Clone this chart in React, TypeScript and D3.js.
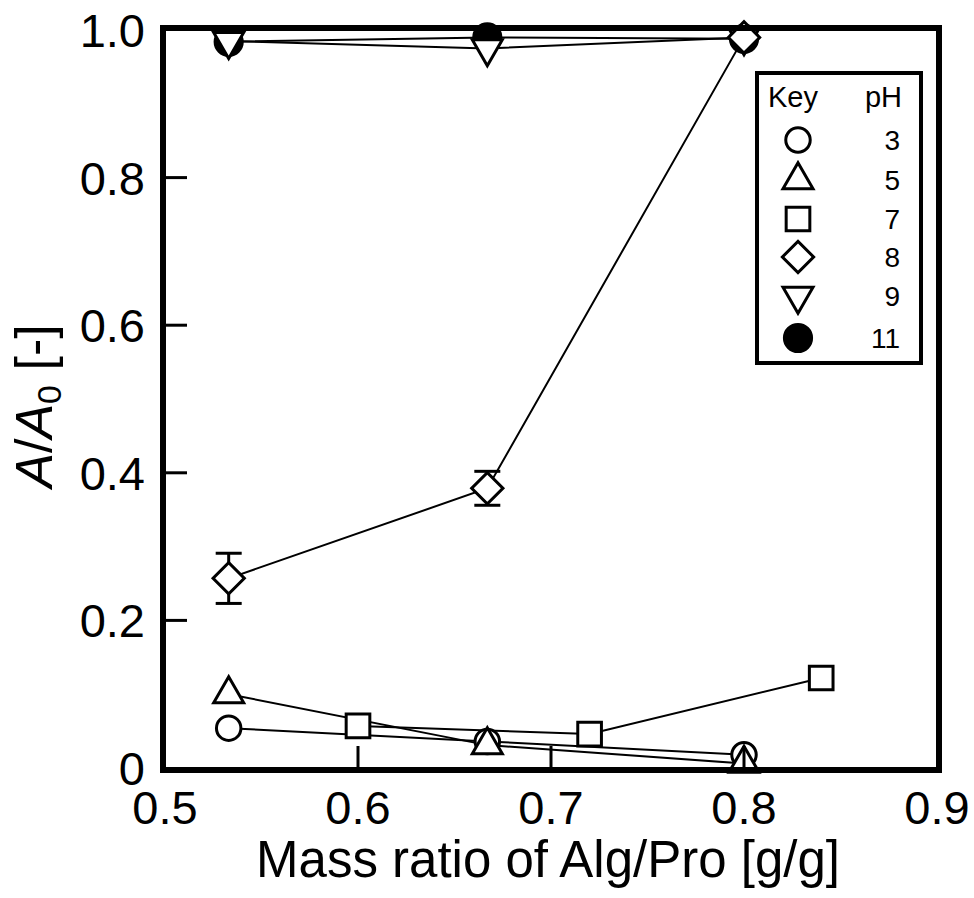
import * as d3 from "d3";

// mass ratio Alg/Pro [g/g]
const xMain = [0.533, 0.667, 0.8];
const xSquare = [0.6, 0.72, 0.84];

// A/A0 per pH
const ph3 = [0.054, 0.036, 0.018];
const ph5 = [0.1, 0.031, 0.006];
const ph7 = [0.057, 0.046, 0.122];
const ph8 = [0.257, 0.379, 0.99];
const ph8Err = [0.034, 0.023, 0];
const ph9 = [0.985, 0.975, 0.99];
const ph11 = [0.984, 0.99, 0.988];

const xTicks = [0.5, 0.6, 0.7, 0.8, 0.9];
const yTicks = [0, 0.2, 0.4, 0.6, 0.8, 1.0];
const legendLabels = ["3", "5", "7", "8", "9", "11"];

const W = 974;
const H = 898;
const FONT = "'Liberation Sans', Arial, sans-serif";

const x = d3.scaleLinear().domain([0.5, 0.9]).range([165, 937]);
const y = d3.scaleLinear().domain([0, 1]).range([768, 30]);

const sym = (type: any, size: number) => d3.symbol().type(type).size(size)() as string;

const shapes = [
  { d: sym(d3.symbolCircle, 470), rot: 0, fill: "white" },
  { d: sym(d3.symbolTriangle, 390), rot: 0, fill: "white" },
  { d: sym(d3.symbolSquare, 560), rot: 0, fill: "white" },
  { d: sym(d3.symbolSquare, 490), rot: 45, fill: "white" },
  { d: sym(d3.symbolTriangle, 390), rot: 180, fill: "white" },
  { d: sym(d3.symbolCircle, 580), rot: 0, fill: "black" },
];

const series = [
  { xs: xMain, ys: ph3, shape: 0 },
  { xs: xMain, ys: ph5, shape: 1 },
  { xs: xSquare, ys: ph7, shape: 2 },
  { xs: xMain, ys: ph8, shape: 3 },
  { xs: xMain, ys: ph9, shape: 4 },
  { xs: xMain, ys: ph11, shape: 5 },
];

const line = d3
  .line<[number, number]>()
  .x((d) => x(d[0]))
  .y((d) => y(d[1]));

function Marker({ cx, cy, shape }: { cx: number; cy: number; shape: number }) {
  const s = shapes[shape];
  return (
    <path
      d={s.d}
      transform={`translate(${cx},${cy}) rotate(${s.rot})`}
      fill={s.fill}
      stroke="black"
      strokeWidth={3}
    />
  );
}

export default function App() {
  const legendRowY = [140, 180, 219, 257, 296, 338];
  return (
    <svg
      width={W}
      height={H}
      style={{ position: "absolute", left: 0, top: 0, background: "white" }}
      fontFamily={FONT}
    >
      {/* lines */}
      {series.map((s, i) => (
        <path
          key={"l" + i}
          d={line(s.xs.map((v, j) => [v, s.ys[j]] as [number, number])) as string}
          fill="none"
          stroke="black"
          strokeWidth={2}
        />
      ))}
      {/* error bars for pH 8 */}
      {xMain.map((v, j) =>
        ph8Err[j] > 0 ? (
          <g key={"e" + j} stroke="black" strokeWidth={3}>
            <line x1={x(v)} x2={x(v)} y1={y(ph8[j] - ph8Err[j])} y2={y(ph8[j] + ph8Err[j])} />
            <line x1={x(v) - 13} x2={x(v) + 13} y1={y(ph8[j] - ph8Err[j])} y2={y(ph8[j] - ph8Err[j])} />
            <line x1={x(v) - 13} x2={x(v) + 13} y1={y(ph8[j] + ph8Err[j])} y2={y(ph8[j] + ph8Err[j])} />
          </g>
        ) : null
      )}
      {/* markers: filled circles first, then the rest */}
      {[5, 0, 1, 2, 4, 3].map((si) =>
        series[si].xs.map((v, j) => (
          <Marker key={`m${si}-${j}`} cx={x(v)} cy={y(series[si].ys[j])} shape={series[si].shape} />
        ))
      )}
      {/* inward ticks */}
      <g stroke="black" strokeWidth={3}>
        {xTicks.slice(1, -1).map((t) => (
          <line key={"xt" + t} x1={x(t)} x2={x(t)} y1={y(0)} y2={y(0) - 22} />
        ))}
        {yTicks.slice(1, -1).map((t) => (
          <line key={"yt" + t} x1={x(0.5)} x2={x(0.5) + 22} y1={y(t)} y2={y(t)} />
        ))}
      </g>
      {/* frame */}
      <rect
        x={x(0.5) - 2}
        y={y(1) - 2}
        width={x(0.9) - x(0.5) + 4}
        height={y(0) - y(1) + 4}
        fill="none"
        stroke="black"
        strokeWidth={6}
      />
      {/* tick labels */}
      {xTicks.map((t) => (
        <text key={"xl" + t} x={x(t)} y={824} fontSize={47} textAnchor="middle">
          {d3.format(".1f")(t)}
        </text>
      ))}
      {yTicks.map((t) => (
        <text key={"yl" + t} x={145} y={y(t) + 17} fontSize={47} textAnchor="end">
          {t === 0 ? "0" : d3.format(".1f")(t)}
        </text>
      ))}
      <text x={548} y={877} fontSize={51} textAnchor="middle">
        Mass ratio of Alg/Pro [g/g]
      </text>
      <text transform="translate(52,406) rotate(-90)" fontSize={52} textAnchor="middle">
        <tspan fontStyle="italic">A</tspan>/<tspan fontStyle="italic">A</tspan>
        <tspan fontSize={34} dy={9}>0</tspan>
        <tspan dy={-9}> [-]</tspan>
      </text>
      {/* legend */}
      <rect x={757} y={73} width={164} height={290} fill="white" stroke="black" strokeWidth={4} />
      <text x={768} y={107} fontSize={29}>Key</text>
      <text x={902} y={107} fontSize={29} textAnchor="end">pH</text>
      {legendLabels.map((lab, i) => (
        <g key={"lg" + i}>
          <Marker cx={798} cy={legendRowY[i]} shape={i} />
          <text x={900} y={legendRowY[i] + 10} fontSize={28} textAnchor="end">
            {lab}
          </text>
        </g>
      ))}
    </svg>
  );
}
